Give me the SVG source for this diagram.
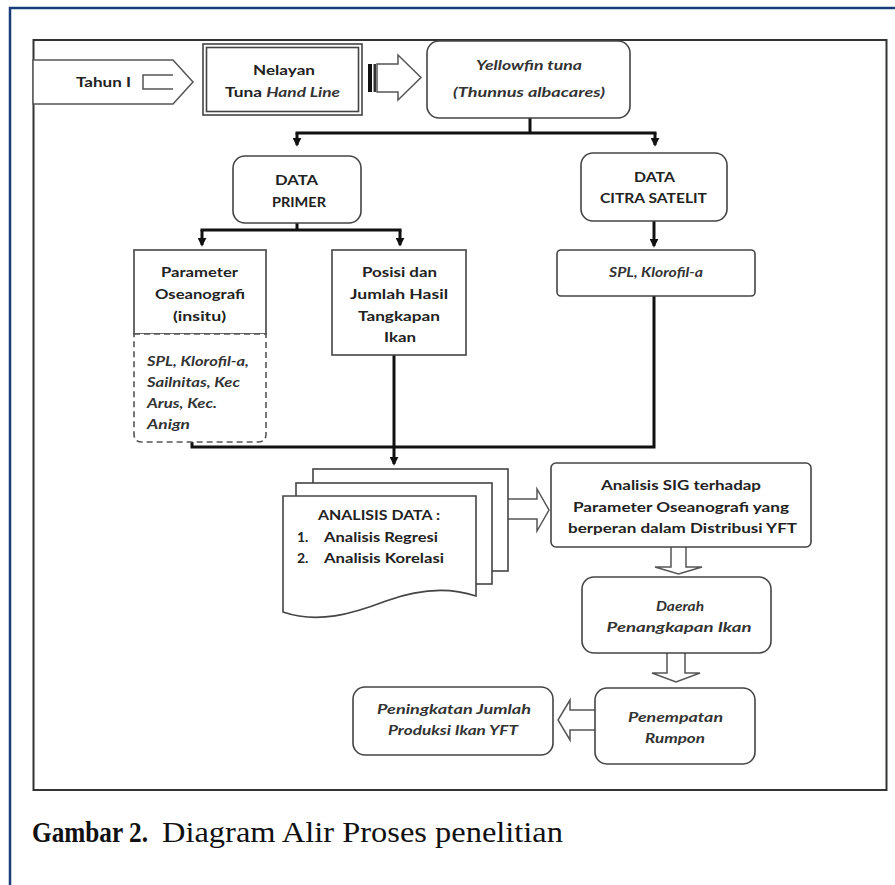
<svg xmlns="http://www.w3.org/2000/svg" width="895" height="885" viewBox="0 0 895 885">
<defs>
<style>
.box{fill:#fff;stroke:#444;stroke-width:1.6}
.dash{fill:#fff;stroke:#555;stroke-width:1.6;stroke-dasharray:6 4}
.conn{fill:none;stroke:#111;stroke-width:3}
.blk{fill:#fff;stroke:#555;stroke-width:1.5}
.t{font-family:Lato,"Open Sans","Liberation Sans",sans-serif;font-size:14px;font-weight:bold;fill:#222;text-anchor:middle}
.l{text-anchor:start}
.i{font-style:italic;fill:#333}
.cap{font-family:"Liberation Serif",serif;font-size:30px;fill:#111}
</style>
<marker id="ah" viewBox="0 0 10 10" refX="8" refY="5" markerWidth="9" markerHeight="9" markerUnits="userSpaceOnUse" orient="auto">
<path d="M0,0 L10,5 L0,10 z" fill="#111"/>
</marker>
</defs>
<rect width="895" height="885" fill="#fff"/>
<path d="M10,885 V8 H895" fill="none" stroke="#1b3c7a" stroke-width="2.5"/>
<rect x="33.5" y="40" width="853" height="750" fill="none" stroke="#333" stroke-width="2"/>

<g id="connectors">
<path class="conn" d="M530,118 V133 M295.5,133 H656.5 M192,442 V447 H654 V296 M297,223 V230 M200.5,230 H401.5"/>
<path class="conn" d="M297,133 V145" marker-end="url(#ah)"/>
<path class="conn" d="M655,133 V145" marker-end="url(#ah)"/>
<path class="conn" d="M202,230 V245" marker-end="url(#ah)"/>
<path class="conn" d="M400,230 V245" marker-end="url(#ah)"/>
<path class="conn" d="M654,221 V246" marker-end="url(#ah)"/>
<path class="conn" d="M394,355 V464" marker-end="url(#ah)"/>
<g id="striped-arrow">
<rect x="368" y="64" width="4" height="28" fill="#111"/>
<rect x="373.5" y="64" width="2.5" height="28" fill="#333"/>
<path class="blk" d="M377,64 H398 V55 L421,77.5 L398,100 V92 H377 Z"/>
</g>
<path class="blk" d="M508,499 H537 V489 L549,510 L537,531 V519 H508"/>
<path class="blk" d="M671,547 V567 H655 L678.5,574 L702,567 H686 V547"/>
<path class="blk" d="M667,653 V673 H652 L676,682 L700,673 H685 V653"/>
<path class="blk" d="M595,710 H570 V700 L558,720 L570,740 V730 H595"/>
</g>

<g id="n-tahun">
<path class="blk" d="M33,60 H173 L193,82 L173,104 H33 Z"/>
<path class="blk" d="M173,75 H143 V89 H173"/>
<text class="t" x="103.5" y="87" textLength="55" lengthAdjust="spacingAndGlyphs">Tahun I</text>
</g>

<g id="n-nelayan">
<rect class="box" x="203" y="44" width="159" height="71"/>
<rect class="box" x="206.5" y="47.5" width="152" height="64"/>
<text class="t" x="284" y="75" textLength="62" lengthAdjust="spacingAndGlyphs">Nelayan</text>
<text class="t" x="282.5" y="97" textLength="115" lengthAdjust="spacingAndGlyphs">Tuna <tspan class="i">Hand Line</tspan></text>
</g>

<g id="n-yellowfin">
<rect class="box" x="427" y="41" width="203" height="77" rx="12"/>
<text class="t i" x="529" y="70" textLength="106" lengthAdjust="spacingAndGlyphs">Yellowfin tuna</text>
<text class="t i" x="529" y="97" textLength="152" lengthAdjust="spacingAndGlyphs">(Thunnus albacares)</text>
</g>

<g id="n-primer">
<rect class="box" x="233" y="156" width="128" height="67" rx="12"/>
<text class="t" x="296.5" y="185" textLength="43" lengthAdjust="spacingAndGlyphs">DATA</text>
<text class="t" x="299" y="207" textLength="54" lengthAdjust="spacingAndGlyphs">PRIMER</text>
</g>

<g id="n-citra">
<rect class="box" x="581" y="153" width="146" height="68" rx="12"/>
<text class="t" x="654.5" y="182" textLength="41" lengthAdjust="spacingAndGlyphs">DATA</text>
<text class="t" x="653.5" y="203" textLength="107" lengthAdjust="spacingAndGlyphs">CITRA SATELIT</text>
</g>

<g id="n-parameter">
<rect class="box" x="134" y="250" width="132" height="84"/>
<text class="t" x="199.5" y="277" textLength="77" lengthAdjust="spacingAndGlyphs">Parameter</text>
<text class="t" x="200" y="299" textLength="90" lengthAdjust="spacingAndGlyphs">Oseanografi</text>
<text class="t" x="199.5" y="321" textLength="53" lengthAdjust="spacingAndGlyphs">(insitu)</text>
</g>

<g id="n-parameter-detail">
<path class="dash" d="M134,334 H266 V434 Q266,442 258,442 H142 Q134,442 134,434 Z"/>
<text class="t i l" x="147" y="366" textLength="102" lengthAdjust="spacingAndGlyphs">SPL, Klorofil-a,</text>
<text class="t i l" x="147" y="387" textLength="93" lengthAdjust="spacingAndGlyphs">Sailnitas, Kec</text>
<text class="t i l" x="147" y="408" textLength="70" lengthAdjust="spacingAndGlyphs">Arus, Kec.</text>
<text class="t i l" x="147" y="429" textLength="43" lengthAdjust="spacingAndGlyphs">Anign</text>
</g>

<g id="n-posisi">
<rect class="box" x="332" y="250" width="134" height="105"/>
<text class="t" x="399.5" y="277" textLength="75" lengthAdjust="spacingAndGlyphs">Posisi dan</text>
<text class="t" x="399" y="299" textLength="98" lengthAdjust="spacingAndGlyphs">Jumlah Hasil</text>
<text class="t" x="399" y="321" textLength="82" lengthAdjust="spacingAndGlyphs">Tangkapan</text>
<text class="t" x="400" y="342" textLength="32" lengthAdjust="spacingAndGlyphs">Ikan</text>
</g>

<g id="n-spl">
<rect class="box" x="557" y="250" width="198" height="46" rx="4"/>
<text class="t i" x="656" y="277" textLength="94" lengthAdjust="spacingAndGlyphs">SPL, Klorofil-a</text>
</g>

<g id="n-analisis">
<rect class="box" x="313" y="469" width="195" height="102"/>
<rect class="box" x="296" y="483" width="196" height="101"/>
<path class="box" d="M283,496 H476 V596 C446,586 416,590 386,601 C352,614 318,624 283,612 Z"/>
<text class="t" x="379" y="520" textLength="122" lengthAdjust="spacingAndGlyphs">ANALISIS DATA :</text>
<text class="t l" x="297" y="542">1.</text>
<text class="t l" x="324" y="542" textLength="114" lengthAdjust="spacingAndGlyphs">Analisis Regresi</text>
<text class="t l" x="297" y="563">2.</text>
<text class="t l" x="324" y="563" textLength="120" lengthAdjust="spacingAndGlyphs">Analisis Korelasi</text>
</g>

<g id="n-sig">
<rect class="box" x="551" y="463" width="260" height="84" rx="5"/>
<text class="t" x="681" y="490" textLength="160" lengthAdjust="spacingAndGlyphs">Analisis SIG terhadap</text>
<text class="t" x="681" y="512" textLength="216" lengthAdjust="spacingAndGlyphs">Parameter Oseanografi yang</text>
<text class="t" x="682.5" y="533" textLength="229" lengthAdjust="spacingAndGlyphs">berperan dalam Distribusi YFT</text>
</g>

<g id="n-daerah">
<rect class="box" x="582" y="577" width="189" height="76" rx="12"/>
<text class="t i" x="680" y="611" textLength="48" lengthAdjust="spacingAndGlyphs">Daerah</text>
<text class="t i" x="679" y="632" textLength="145" lengthAdjust="spacingAndGlyphs">Penangkapan Ikan</text>
</g>

<g id="n-rumpon">
<rect class="box" x="595" y="688" width="160" height="76" rx="12"/>
<text class="t i" x="675.5" y="722" textLength="95" lengthAdjust="spacingAndGlyphs">Penempatan</text>
<text class="t i" x="675" y="743" textLength="60" lengthAdjust="spacingAndGlyphs">Rumpon</text>
</g>

<g id="n-peningkatan">
<rect class="box" x="353" y="687" width="200" height="68" rx="12"/>
<text class="t i" x="454" y="714" textLength="154" lengthAdjust="spacingAndGlyphs">Peningkatan Jumlah</text>
<text class="t i" x="453" y="735" textLength="130" lengthAdjust="spacingAndGlyphs">Produksi Ikan YFT</text>
</g>

<text class="cap" x="32" y="842"><tspan font-weight="bold" textLength="116" lengthAdjust="spacingAndGlyphs">Gambar 2.</tspan><tspan x="162" textLength="401" lengthAdjust="spacingAndGlyphs">Diagram Alir Proses penelitian</tspan></text>
</svg>
